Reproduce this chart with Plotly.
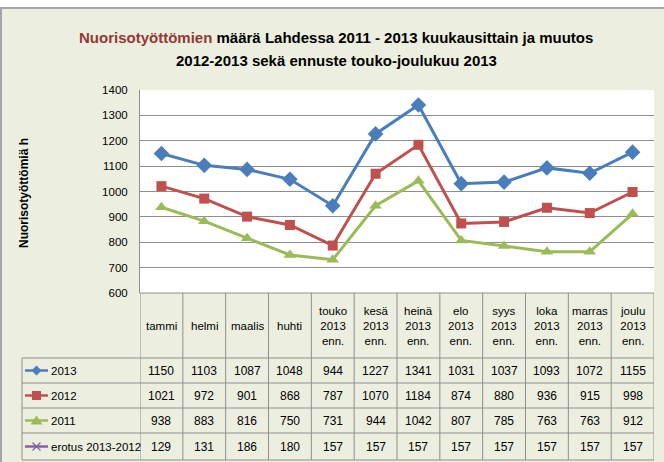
import plotly.graph_objects as go

# ---- data ----
months = ["tammi", "helmi", "maalis", "huhti",
          "touko<br>2013<br>enn.", "kesä<br>2013<br>enn.", "heinä<br>2013<br>enn.",
          "elo<br>2013<br>enn.", "syys<br>2013<br>enn.", "loka<br>2013<br>enn.",
          "marras<br>2013<br>enn.", "joulu<br>2013<br>enn."]
v2013 = [1150, 1103, 1087, 1048, 944, 1227, 1341, 1031, 1037, 1093, 1072, 1155]
v2012 = [1021, 972, 901, 868, 787, 1070, 1184, 874, 880, 936, 915, 998]
v2011 = [938, 883, 816, 750, 731, 944, 1042, 807, 785, 763, 763, 912]
erotus = [129, 131, 186, 180, 157, 157, 157, 157, 157, 157, 157, 157]
series_names = ["2013", "2012", "2011", "erotus 2013-2012"]
y_ticks = [600, 700, 800, 900, 1000, 1100, 1200, 1300, 1400]
title_lines = ['<span style="color:#953735">Nuorisotyöttömien</span> määrä Lahdessa 2011 - 2013 kuukausittain ja muutos',
               '2012-2013 sekä ennuste touko-joulukuu 2013']
y_title = "Nuorisotyöttömiä h"

W, H = 664, 462
FONT = "Liberation Sans, Arial, sans-serif"
BLUE, RED, GREEN, PURPLE = "#4A7EBB", "#C0504D", "#9BBB59", "#8064A2"
GRID = "#8E8E8E"
BG = "#ECEFDF"

def px(x):
    return x / W

def py(y):
    return 1 - y / H

PLOT_L, PLOT_R, PLOT_T, PLOT_B = 140, 654, 90, 293
TABLE_L = 22
ROW_LINES = [358, 383, 408, 433, 460]

xs = list(range(len(months)))
fig = go.Figure()
styles = [(v2013, BLUE, "diamond", 12), (v2012, RED, "square", 10), (v2011, GREEN, "triangle-up", 11)]
for vals, col, sym, size in styles:
    fig.add_trace(go.Scatter(
        x=xs, y=vals, mode="lines+markers",
        line=dict(color=col, width=3),
        marker=dict(symbol=sym, size=size, color=col, line=dict(color=col, width=0)),
        showlegend=False, hoverinfo="skip"))

shapes = []
# chart-area background and border
shapes.append(dict(type="rect", xref="paper", yref="paper",
                   x0=px(1), x1=px(720), y0=py(8), y1=py(520),
                   fillcolor=BG, line=dict(color="#A5A5A5", width=2), layer="below"))
# white plot area
shapes.append(dict(type="rect", xref="paper", yref="paper",
                   x0=px(PLOT_L), x1=px(PLOT_R), y0=py(PLOT_B), y1=py(PLOT_T),
                   fillcolor="white", line=dict(width=0), layer="below"))
# table: vertical lines
for i in range(len(months) + 1):
    shapes.append(dict(type="line", xref="x", yref="paper",
                       x0=i - 0.5, x1=i - 0.5, y0=py(PLOT_B), y1=py(ROW_LINES[-1]),
                       line=dict(color=GRID, width=1)))
shapes.append(dict(type="line", xref="paper", yref="paper",
                   x0=px(TABLE_L), x1=px(TABLE_L), y0=py(ROW_LINES[0]), y1=py(ROW_LINES[-1]),
                   line=dict(color=GRID, width=1)))
# table: horizontal lines
shapes.append(dict(type="line", xref="paper", yref="paper",
                   x0=px(PLOT_L), x1=px(PLOT_R), y0=py(PLOT_B), y1=py(PLOT_B),
                   line=dict(color=GRID, width=1)))
for yl in ROW_LINES:
    shapes.append(dict(type="line", xref="paper", yref="paper",
                       x0=px(TABLE_L), x1=px(PLOT_R), y0=py(yl), y1=py(yl),
                       line=dict(color=GRID, width=1)))

# legend keys
key_x0, key_x1, key_c = 25, 48, 36.5
key_cols = [BLUE, RED, GREEN, PURPLE]
for r, col in enumerate(key_cols):
    cy = (ROW_LINES[r] + ROW_LINES[r + 1]) / 2
    shapes.append(dict(type="line", xref="paper", yref="paper",
                       x0=px(key_x0), x1=px(key_x1), y0=py(cy), y1=py(cy),
                       line=dict(color=col, width=2.5)))
    if r == 0:
        d = 5
        path = "M {} {} L {} {} L {} {} L {} {} Z".format(
            px(key_c), py(cy - d), px(key_c + d), py(cy), px(key_c), py(cy + d), px(key_c - d), py(cy))
        shapes.append(dict(type="path", xref="paper", yref="paper", path=path,
                           fillcolor=col, line=dict(color=col, width=0)))
    elif r == 1:
        d = 4.5
        shapes.append(dict(type="rect", xref="paper", yref="paper",
                           x0=px(key_c - d), x1=px(key_c + d), y0=py(cy + d), y1=py(cy - d),
                           fillcolor=col, line=dict(color=col, width=0)))
    elif r == 2:
        d = 5
        path = "M {} {} L {} {} L {} {} Z".format(
            px(key_c), py(cy - d), px(key_c + d + 1), py(cy + d - 1), px(key_c - d - 1), py(cy + d - 1))
        shapes.append(dict(type="path", xref="paper", yref="paper", path=path,
                           fillcolor=col, line=dict(color=col, width=0)))
    else:
        d = 4
        for s in (1, -1):
            shapes.append(dict(type="line", xref="paper", yref="paper",
                               x0=px(key_c - d), x1=px(key_c + d),
                               y0=py(cy - s * d), y1=py(cy + s * d),
                               line=dict(color=col, width=1.3)))

annotations = []
# title (two lines, spaced like the reference)
for line_text, ty in zip(title_lines, [37, 60]):
    annotations.append(dict(
        xref="paper", yref="paper", x=px(336), y=py(ty), xanchor="center", yanchor="middle",
        text="<b>" + line_text + "</b>",
        showarrow=False, font=dict(family=FONT, size=15, color="black"), align="center"))
# y axis title
annotations.append(dict(
    xref="paper", yref="paper", x=px(24), y=py(193), xanchor="center", yanchor="middle",
    text="<b>" + y_title + "</b>", textangle=-90, showarrow=False,
    font=dict(family=FONT, size=12, color="black")))
# header row
for i, m in enumerate(months):
    annotations.append(dict(
        xref="x", yref="paper", x=i, y=py((PLOT_B + ROW_LINES[0]) / 2),
        xanchor="center", yanchor="middle", text=m, showarrow=False,
        font=dict(family=FONT, size=11.5, color="black"), align="center"))
# data rows
all_rows = [v2013, v2012, v2011, erotus]
for r, vals in enumerate(all_rows):
    cy = (ROW_LINES[r] + ROW_LINES[r + 1]) / 2
    annotations.append(dict(
        xref="paper", yref="paper", x=px(49), y=py(cy), xanchor="left", yanchor="middle",
        text=series_names[r], showarrow=False,
        font=dict(family=FONT, size=11.5, color="black")))
    for i, v in enumerate(vals):
        annotations.append(dict(
            xref="x", yref="paper", x=i, y=py(cy), xanchor="center", yanchor="middle",
            text=str(v), showarrow=False,
            font=dict(family=FONT, size=12, color="black")))

fig.update_layout(
    width=W, height=H,
    margin=dict(l=0, r=0, t=0, b=0, autoexpand=False),
    paper_bgcolor="white",
    plot_bgcolor="rgba(0,0,0,0)",
    showlegend=False,
    shapes=shapes,
    annotations=annotations,
    xaxis=dict(domain=[px(PLOT_L), px(PLOT_R)], range=[-0.5, len(months) - 0.5],
               showgrid=False, showticklabels=False, zeroline=False, showline=False, ticks=""),
    yaxis=dict(domain=[py(PLOT_B), py(PLOT_T)], range=[y_ticks[0], y_ticks[-1]],
               tickvals=y_ticks, showgrid=True, gridcolor=GRID, gridwidth=1,
               showline=True, linecolor=GRID, linewidth=1, zeroline=False,
               ticks="outside", ticklen=9, tickcolor="rgba(0,0,0,0)",
               tickfont=dict(family=FONT, size=11.5, color="black")),
)

fig.write_html("out.html",
               config={"displayModeBar": False},
               post_script="document.body.style.margin='0';document.body.style.padding='0';"
                           "document.body.style.overflow='hidden';")
